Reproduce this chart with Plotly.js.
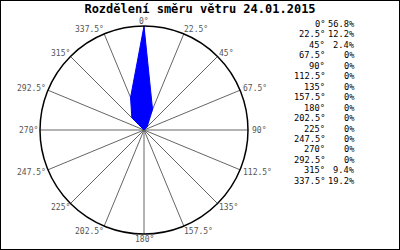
<!DOCTYPE html>
<html><head><meta charset="utf-8">
<script src="https://cdn.plot.ly/plotly-3.0.1.min.js"></script>
<style>body{margin:0;background:#fff}#c{width:400px;height:250px}</style>
</head><body><div id="c"></div>
<script>
const directions = [0, 22.5, 45, 67.5, 90, 112.5, 135, 157.5, 180, 202.5, 225, 247.5, 270, 292.5, 315, 337.5];
const dirLabels = ["0°","22.5°","45°","67.5°","90°","112.5°","135°","157.5°","180°","202.5°","225°","247.5°","270°","292.5°","315°","337.5°"];
const percents = [56.8, 12.2, 2.4, 0, 0, 0, 0, 0, 0, 0, 0, 0, 0, 0, 9.4, 19.2];
const pctLabels = ["56.8%","12.2%","2.4%","0%","0%","0%","0%","0%","0%","0%","0%","0%","0%","0%","9.4%","19.2%"];
const titleText = "Rozdělení směru větru 24.01.2015";

const W = 400, H = 250;
const mono = "DejaVu Sans Mono, monospace";

const trace = {
  type: 'scatterpolar',
  r: percents.concat([percents[0]]),
  theta: directions.concat([directions[0]]),
  mode: 'lines',
  fill: 'toself',
  fillcolor: '#0000ff',
  line: {color: '#0000ff', width: 1},
  hoverinfo: 'skip'
};

const annotations = [];
// table on the right
const rowTop = 24, rowStep = 10.45;
directions.forEach((d, i) => {
  const y = 1 - (rowTop + i * rowStep) / H;
  annotations.push({xref: 'paper', yref: 'paper', x: 325 / W, y: y, xanchor: 'right', yanchor: 'middle',
    borderpad: 0, borderwidth: 0,
    text: dirLabels[i], showarrow: false, font: {family: mono, size: 8.7, color: '#000'}});
  annotations.push({xref: 'paper', yref: 'paper', x: 355 / W, y: y, xanchor: 'right', yanchor: 'middle',
    borderpad: 0, borderwidth: 0,
    text: pctLabels[i], showarrow: false, font: {family: mono, size: 8.7, color: '#000'}});
});

// angular labels placed at the circle edge
const cx = 144, cy = 130, R = 104;
directions.forEach((d, i) => {
  const a = d * Math.PI / 180;
  const s = Math.sin(a), c = Math.cos(a);
  let px = cx + R * s, py = cy - R * c;
  let xanchor = 'center';
  if (s > 0.01) { xanchor = 'left'; px += 4 * Math.pow(s, 3); }
  else if (s < -0.01) { xanchor = 'right'; px -= 2 * Math.pow(-s, 3); }
  const yc = py - 4.5 * c + (c < -0.01 ? 1 : 0);
  annotations.push({xref: 'paper', yref: 'paper', x: px / W, y: 1 - yc / H, xanchor: xanchor, yanchor: 'middle',
    borderpad: 0, borderwidth: 0,
    text: dirLabels[i], showarrow: false, font: {family: mono, size: 8, color: '#555'}});
});

const layout = {
  width: W, height: H,
  margin: {l: 0, r: 0, t: 0, b: 0},
  paper_bgcolor: '#fff',
  showlegend: false,
  title: {text: '<b>' + titleText + '</b>', font: {family: mono, size: 12, color: '#000'},
    x: 0.5, xanchor: 'center', y: 1 - 8.5 / H, yanchor: 'middle', xref: 'paper', yref: 'container'},
  polar: {
    domain: {x: [(cx - R) / W, (cx + R) / W], y: [(H - cy - R) / H, (H - cy + R) / H]},
    bgcolor: '#fff',
    radialaxis: {range: [0, 56.8], visible: true, showgrid: false, showline: false, showticklabels: false, ticks: ''},
    angularaxis: {
      rotation: 90, direction: 'clockwise',
      tickmode: 'array', tickvals: directions, showticklabels: false,
      ticks: '', showgrid: true, gridcolor: '#666', gridwidth: 1,
      showline: true, linecolor: '#000', linewidth: 1.5
    }
  },
  annotations: annotations,
  shapes: [{type: 'rect', xref: 'paper', yref: 'paper', x0: 0, y0: 0, x1: 1, y1: 1,
    line: {color: '#000', width: 2}}]
};

Plotly.newPlot('c', [trace], layout, {displayModeBar: false, staticPlot: true});
</script></body></html>
